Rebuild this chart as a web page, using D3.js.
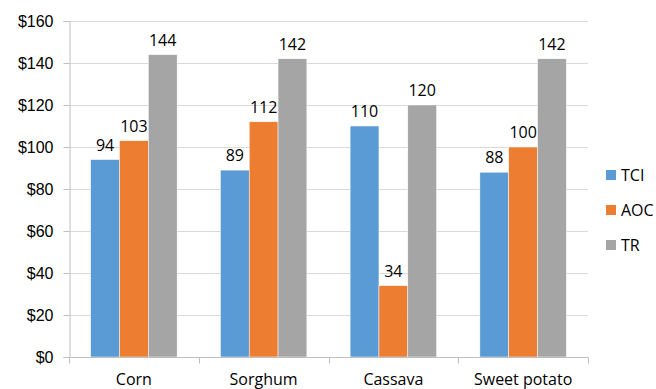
<!DOCTYPE html>
<html>
<head>
<meta charset="utf-8">
<script src="https://cdn.jsdelivr.net/npm/d3@7"></script>
<style>
  html, body { margin: 0; padding: 0; background: #fff; }
  svg { display: block; font-family: "Open Sans", "Noto Sans", sans-serif; }
</style>
</head>
<body>
<svg id="chart" width="656" height="389"></svg>
<script>
// Crops and cost/revenue series ($ per unit)
const categories = ["Corn", "Sorghum", "Cassava", "Sweet potato"];
const seriesNames = ["TCI", "AOC", "TR"];
const tciValues = [94, 89, 110, 88];
const aocValues = [103, 112, 34, 100];
const trValues = [144, 142, 120, 142];
const yTicks = [0, 20, 40, 60, 80, 100, 120, 140, 160];
const colors = ["#5b9bd5", "#ed7d31", "#a5a5a5"];

const seriesValues = [tciValues, aocValues, trValues];

const svg = d3.select("#chart");
const margin = { left: 69, right: 68, top: 21, bottom: 32 };
const width = 656, height = 389;
const plotW = width - margin.left - margin.right;
const plotH = height - margin.top - margin.bottom;

const g = svg.append("g").attr("transform", `translate(${margin.left},${margin.top})`);

// Category bands; each group holds 3 bars with a 150% gap between groups
const x0 = d3.scaleBand().domain(categories).range([0, plotW]);
const band = x0.bandwidth();
const barW = band / 4.5;
const x1 = d3.scaleBand().domain(seriesNames).range([0, barW * 3]);
const y = d3.scaleLinear().domain([0, 160]).range([plotH, 0]);

// Horizontal gridlines
g.append("g").selectAll("line").data(yTicks.filter(d => d > 0)).join("line")
  .attr("x1", 0).attr("x2", plotW)
  .attr("y1", d => Math.round(y(d)) + 0.5).attr("y2", d => Math.round(y(d)) + 0.5)
  .attr("stroke", "#d9d9d9").attr("stroke-width", 1);

// Y axis
const yAxis = d3.axisLeft(y).tickValues(yTicks).tickFormat(d => "$" + d).tickSize(6).tickPadding(10);
const ya = g.append("g").attr("transform", "translate(0.5,0)").call(yAxis);
ya.select(".domain").attr("stroke", "#bfbfbf");
ya.selectAll(".tick line").attr("stroke", "#bfbfbf");
ya.selectAll("text").attr("font-size", 16).attr("fill", "#000");

// Bars
const groups = g.append("g").selectAll("g").data(categories).join("g")
  .attr("transform", d => `translate(${x0(d) + (band - barW * 3) / 2},0)`);

const cells = (c, i) => seriesNames.map((s, k) => ({ s, k, v: seriesValues[k][i] }));

groups.selectAll("rect").data(cells)
  .join("rect")
  .attr("x", d => x1(d.s))
  .attr("width", x1.bandwidth())
  .attr("y", d => y(d.v))
  .attr("height", d => plotH - y(d.v))
  .attr("fill", d => colors[d.k])
  .attr("stroke", "#fff").attr("stroke-width", 0.5);

groups.selectAll("text").data(cells)
  .join("text")
  .attr("x", d => x1(d.s) + x1.bandwidth() / 2)
  .attr("y", d => y(d.v) - 9)
  .attr("text-anchor", "middle")
  .attr("font-size", 16)
  .attr("fill", "#000")
  .text(d => d.v);

// X axis
const xb = g.append("g").attr("transform", `translate(0,${plotH + 0.5})`);
xb.append("line").attr("x1", 0).attr("x2", plotW).attr("stroke", "#bfbfbf");
xb.selectAll("line.tk").data(d3.range(categories.length + 1)).join("line")
  .attr("class", "tk")
  .attr("x1", i => Math.round(i * band) + 0.5).attr("x2", i => Math.round(i * band) + 0.5)
  .attr("y1", 0).attr("y2", 6).attr("stroke", "#bfbfbf");
xb.selectAll("text").data(categories).join("text")
  .attr("x", d => x0(d) + band / 2)
  .attr("y", 27)
  .attr("text-anchor", "middle")
  .attr("font-size", 16)
  .attr("fill", "#000")
  .text(d => d);

// Legend
const legend = svg.append("g").attr("transform", "translate(606,0)");
const li = legend.selectAll("g").data(seriesNames).join("g")
  .attr("transform", (d, i) => `translate(0,${175 + i * 35})`);
li.append("rect").attr("x", 0).attr("y", -5).attr("width", 10).attr("height", 10)
  .attr("fill", (d, i) => colors[i]);
li.append("text").attr("x", 15).attr("y", 6).attr("font-size", 16).attr("fill", "#000").text(d => d);
</script>
</body>
</html>
